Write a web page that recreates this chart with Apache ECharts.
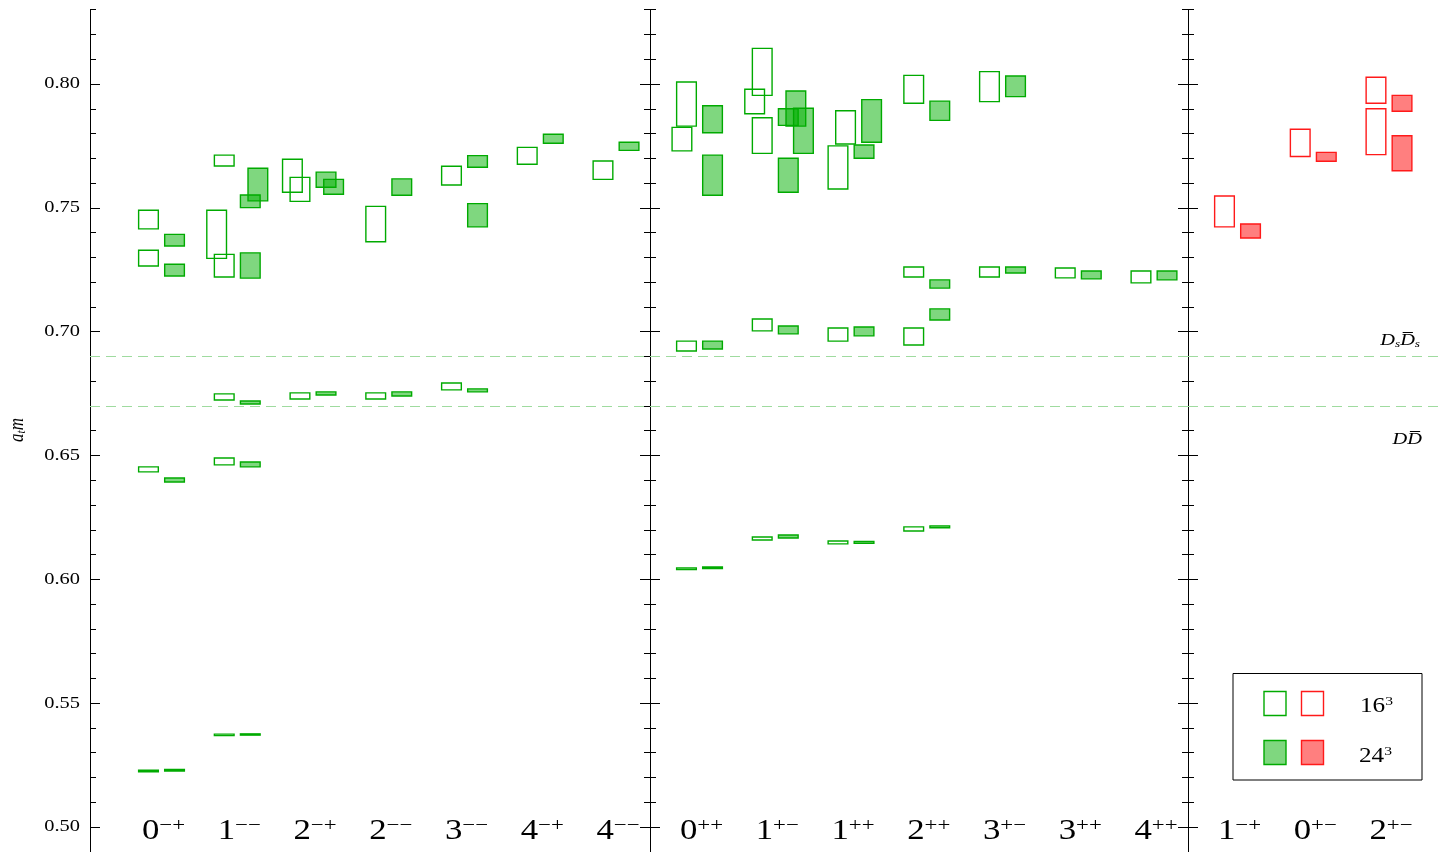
<!DOCTYPE html>
<html><head><meta charset="utf-8">
<script src="https://cdn.jsdelivr.net/npm/echarts@6/dist/echarts.min.js"></script>
<style>html,body{margin:0;padding:0;background:#fff;overflow:hidden}#c{width:1442px;height:852px}</style>
</head><body><div id="c"></div>
<script>
// ---- category labels [digit, superscript] ----
const catsPanel1 = [['0','−+'],['1','−−'],['2','−+'],['2','−−'],['3','−−'],['4','−+'],['4','−−']];
const catsPanel2 = [['0','++'],['1','+−'],['1','++'],['2','++'],['3','+−'],['3','++'],['4','++']];
const catsPanel3 = [['1','−+'],['0','+−'],['2','+−']];

// ---- boxes: [category (1-based), low a_t m, high a_t m, sideways nudge (category units)] ----
const boxes16Panel1 = [
  [1,0.7415,0.7490,0],[1,0.7265,0.7329,0],[1,0.6434,0.6454,0],[1,0.5223,0.5229,0],
  [2,0.7669,0.7713,0],[2,0.7296,0.7490,-0.1],[2,0.7221,0.7312,0],[2,0.6724,0.6749,0],[2,0.6462,0.6490,0],[2,0.5369,0.5375,0],
  [3,0.7563,0.7696,-0.1],[3,0.7526,0.7623,0],[3,0.6728,0.6753,0],
  [4,0.7363,0.7506,0],[4,0.6728,0.6753,0],
  [5,0.7592,0.7668,0],[5,0.6765,0.6793,0],
  [6,0.7676,0.7744,0],
  [7,0.7615,0.7689,0]
];
const boxes24Panel1 = [
  [1,0.7346,0.7393,0],[1,0.7225,0.7272,0],[1,0.6393,0.6409,0],[1,0.5226,0.5232,0],
  [2,0.7528,0.7660,0.1],[2,0.7501,0.7552,0],[2,0.7216,0.7318,0],[2,0.6708,0.6720,0],[2,0.6454,0.6474,0],[2,0.5371,0.5376,0],
  [3,0.7583,0.7644,0],[3,0.7555,0.7615,0.1],[3,0.6744,0.6757,0],
  [4,0.7551,0.7617,0],[4,0.6740,0.6757,0],
  [5,0.7664,0.7711,0],[5,0.7423,0.7517,0],[5,0.6757,0.6769,0],
  [6,0.7761,0.7797,0],
  [7,0.7732,0.7765,0]
];
const boxes16Panel2 = [
  [1,0.7830,0.8008,0],[1,0.7730,0.7825,-0.06],[1,0.6922,0.6962,0],[1,0.6039,0.6046,0],
  [2,0.7954,0.8144,0],[2,0.7880,0.7979,-0.1],[2,0.7720,0.7864,0],[2,0.7003,0.7051,0],[2,0.6159,0.6171,0],
  [3,0.7758,0.7892,0.1],[3,0.7576,0.7750,0],[3,0.6962,0.7015,0],[3,0.6143,0.6155,0],
  [4,0.7922,0.8035,0],[4,0.7221,0.7261,0],[4,0.6946,0.7015,0],[4,0.6195,0.6212,0],
  [5,0.7929,0.8050,0],[5,0.7221,0.7261,0],
  [6,0.7217,0.7257,0],
  [7,0.7197,0.7245,0]
];
const boxes24Panel2 = [
  [1,0.7803,0.7912,0],[1,0.7551,0.7713,0],[1,0.6930,0.6962,0],[1,0.6044,0.6050,0],
  [2,0.7833,0.7900,0],[2,0.7830,0.7972,0.1],[2,0.7720,0.7902,0.2],[2,0.7563,0.7700,0],[2,0.6991,0.7023,0],[2,0.6167,0.6179,0],
  [3,0.7765,0.7937,0.1],[3,0.7700,0.7754,0],[3,0.6983,0.7019,0],[3,0.6145,0.6153,0],
  [4,0.7853,0.7931,0],[4,0.7176,0.7209,0],[4,0.7047,0.7092,0],[4,0.6208,0.6216,0],
  [5,0.7949,0.8032,0],[5,0.7237,0.7261,0],
  [6,0.7213,0.7245,0],
  [7,0.7209,0.7245,0]
];
const boxes16Panel3 = [[1,0.7423,0.7548,0],[2,0.7707,0.7817,0],[3,0.7922,0.8027,0],[3,0.7715,0.7900,0]];
const boxes24Panel3 = [[1,0.7378,0.7435,0],[2,0.7688,0.7724,0],[3,0.7890,0.7954,0],[3,0.7650,0.7791,0]];

// ---- two-meson thresholds ----
const thresholdValues = [0.6886, 0.6668];

// ---- y axis ----
const yMin = 0.45, yMax = 0.85, yStep = 0.05;
const yTickLabels = [0.50, 0.55, 0.60, 0.65, 0.70, 0.75, 0.80];
const legendLabels = ['16', '24'];

const GREEN = '#00aa00', GREEN_FILL = 'rgba(0,175,0,0.5)';
const RED = '#ff1a1a', RED_FILL = 'rgba(255,0,0,0.5)';
const SERIF = 'Liberation Serif';
const STRETCH = 1.2;               // the original artwork is horizontally stretched
const BOX_W = 0.26, OFF = 0.172;

const pxPerUnit = (827 - 84) / 0.30;
const gridTop = 84 - (yMax - 0.80) * pxPerUnit;
const gridHeight = (yMax - yMin) * pxPerUnit;

const panels = [
  {left: 90,   width: 560, xmin: 0.0561, xmax: 7.4488, cats: catsPanel1, b16: boxes16Panel1, b24: boxes24Panel1, c: GREEN, f: GREEN_FILL, rightAxis: true},
  {left: 650,  width: 538, xmin: 0.3465, xmax: 7.4488, cats: catsPanel2, b16: boxes16Panel2, b24: boxes24Panel2, c: GREEN, f: GREEN_FILL, rightAxis: true},
  {left: 1188, width: 254, xmin: 0.3465, xmax: 0.3465 + 254/75.75, cats: catsPanel3, b16: boxes16Panel3, b24: boxes24Panel3, c: RED, f: RED_FILL, rightAxis: false}
];

const grids = [], xAxes = [], yAxes = [], series = [];
panels.forEach((p, g) => {
  grids.push({left: p.left, width: p.width, top: gridTop, height: gridHeight,
    outerBoundsMode: 'none', containLabel: false});
  xAxes.push({type: 'value', gridIndex: g, min: p.xmin, max: p.xmax, show: false});
  const yBase = {
    type: 'value', gridIndex: g, min: yMin, max: yMax, interval: yStep,
    axisLine: {show: true, onZero: false, lineStyle: {color: '#000', width: 1}},
    axisTick: {show: true, inside: true, length: 10, lineStyle: {color: '#000', width: 1}},
    minorTick: {show: true, splitNumber: 5, length: 6, lineStyle: {color: '#000', width: 1}},
    splitLine: {show: false}, minorSplitLine: {show: false}, axisLabel: {show: false}
  };
  yAxes.push(Object.assign({}, yBase, {position: 'left'}));
  yAxes.push(Object.assign({}, yBase, {position: 'right', show: p.rightAxis}));

  const mk = (arr, vol) => ({
    type: 'custom', xAxisIndex: g, yAxisIndex: 2 * g, z: vol === 24 ? 3 : 4, silent: true,
    data: arr.map(b => [b[0] + (vol === 16 ? -OFF : OFF) + b[3], b[1], b[2]]),
    renderItem: (params, api) => {
      const x = api.value(0), lo = api.value(1), hi = api.value(2);
      const a = api.coord([x - BOX_W / 2, hi]);
      const b = api.coord([x + BOX_W / 2, lo]);
      return {type: 'rect',
        shape: {x: a[0], y: a[1], width: b[0] - a[0], height: Math.max(b[1] - a[1], 1)},
        style: {fill: vol === 24 ? p.f : 'none', stroke: p.c, lineWidth: 1.4}};
    }
  });
  series.push(mk(p.b24, 24));
  series.push(mk(p.b16, 16));

  // category labels (stretched serif text) + threshold lines
  series.push({
    type: 'custom', xAxisIndex: g, yAxisIndex: 2 * g, silent: true, clip: false, z: 5,
    data: p.cats.map((c, i) => [i + 1, 0.4983]),
    renderItem: (params, api) => {
      const pt = api.coord([api.value(0), api.value(1)]);
      const c = p.cats[params.dataIndex];
      return {type: 'text', x: pt[0] + 2, y: pt[1], scaleX: STRETCH,
        style: {text: '{n|' + c[0] + '}{s|' + c[1] + '}', align: 'center', verticalAlign: 'middle',
          rich: {n: {fontFamily: SERIF, fontSize: 29, fill: '#000', color: '#000'},
                 s: {fontFamily: SERIF, fontSize: 19, fill: '#000', color: '#000', verticalAlign: 'top'}}}};
    },
    markLine: {silent: true, symbol: 'none', label: {show: false},
      lineStyle: {type: [10, 6], color: '#9fdb9f', width: 1},
      data: thresholdValues.map(v => ({yAxis: v}))}
  });
});

// y tick labels, placed by the first panel's axis scale
series.push({
  type: 'custom', xAxisIndex: 0, yAxisIndex: 0, silent: true, clip: false, z: 5,
  data: yTickLabels.map(v => [panels[0].xmin, v]),
  renderItem: (params, api) => {
    const pt = api.coord([api.value(0), api.value(1)]);
    return {type: 'text', x: pt[0] - 10, y: pt[1], scaleX: STRETCH,
      style: {text: api.value(1).toFixed(2), align: 'right', verticalAlign: 'middle',
        fontFamily: SERIF, fontSize: 17, fill: '#000'}};
  }
});

const chart = echarts.init(document.getElementById('c'), null, {renderer: 'canvas'});
chart.setOption({
  animation: false, backgroundColor: '#fff',
  grid: grids, xAxis: xAxes, yAxis: yAxes, series: series
});

// annotations placed through the chart's own scales
const pDs = chart.convertToPixel({gridIndex: 2}, [3.3, thresholdValues[0]]);
const pDD = chart.convertToPixel({gridIndex: 2}, [3.3, thresholdValues[1]]);
const it = {fontFamily: SERIF, fontStyle: 'italic', fontSize: 17, color: '#000'};
const sub = {fontFamily: SERIF, fontStyle: 'italic', fontSize: 11, color: '#000', verticalAlign: 'bottom'};
const legN = {fontFamily: SERIF, fontSize: 21, color: '#000'};
const legS = {fontFamily: SERIF, fontSize: 13, color: '#000', verticalAlign: 'top'};
chart.setOption({
  graphic: [
    {type: 'rect', left: 0, top: 0, shape: {width: 1442, height: 9}, style: {fill: '#fff'}, z: 100},
    {type: 'text', x: 1420, y: pDs[1] - 19, z: 50, scaleX: STRETCH,
      style: {text: '{i|D}{s|s}{i|D\u0305}{s|s}', align: 'right', verticalAlign: 'middle', rich: {i: it, s: sub}}},
    {type: 'text', x: 1422, y: pDD[1] + 26, z: 50, scaleX: STRETCH,
      style: {text: '{i|DD\u0305}', align: 'right', verticalAlign: 'middle', rich: {i: it}}},
    {type: 'text', x: 18, y: 430, rotation: Math.PI / 2, scaleY: STRETCH, z: 50,
      style: {text: '{i|a}{s|t}{i|m}', align: 'center', verticalAlign: 'middle', rich: {i: it, s: sub}}},
    // legend
    {type: 'rect', z: 60, shape: {x: 1233, y: 673.5, width: 189, height: 106.5},
      style: {fill: '#fff', stroke: '#000', lineWidth: 1}},
    {type: 'rect', z: 61, shape: {x: 1264, y: 691.5, width: 22, height: 24}, style: {fill: 'none', stroke: GREEN, lineWidth: 1.4}},
    {type: 'rect', z: 61, shape: {x: 1301.5, y: 691.5, width: 22, height: 24}, style: {fill: 'none', stroke: RED, lineWidth: 1.4}},
    {type: 'rect', z: 61, shape: {x: 1264, y: 740.5, width: 22, height: 24}, style: {fill: GREEN_FILL, stroke: GREEN, lineWidth: 1.4}},
    {type: 'rect', z: 61, shape: {x: 1301.5, y: 740.5, width: 22, height: 24}, style: {fill: RED_FILL, stroke: RED, lineWidth: 1.4}},
    {type: 'text', z: 61, x: 1360, y: 706, scaleX: STRETCH,
      style: {text: '{n|' + legendLabels[0] + '}{s|3}', verticalAlign: 'middle', rich: {n: legN, s: legS}}},
    {type: 'text', z: 61, x: 1359, y: 756, scaleX: STRETCH,
      style: {text: '{n|' + legendLabels[1] + '}{s|3}', verticalAlign: 'middle', rich: {n: legN, s: legS}}}
  ]
});
</script>
</body></html>
